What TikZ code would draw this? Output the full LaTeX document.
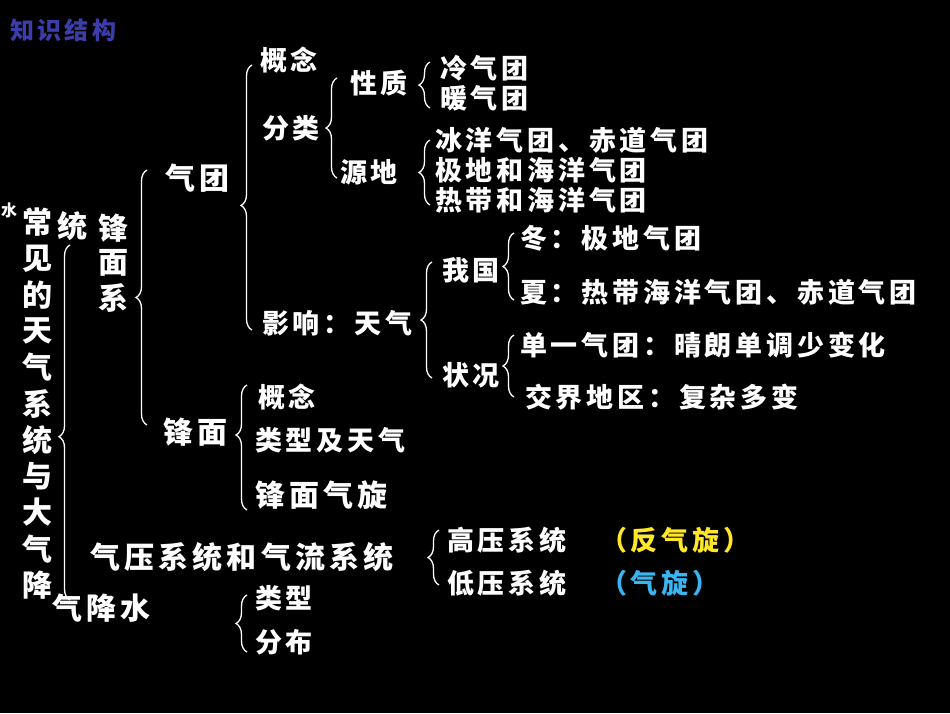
\documentclass[tikz,border=0pt]{standalone}
\usepackage{fontspec}
\setmainfont{Noto Sans CJK SC}[LetterSpace=14]
\usetikzlibrary{decorations.pathreplacing}
\begin{document}
\begin{tikzpicture}[x=1pt,y=-1pt,
  t/.style={anchor=west,text=white,inner sep=0pt,font=\fontsize{27}{27}\selectfont\bfseries},
  tb/.style={t,font=\fontsize{30}{30}\selectfont\bfseries},
  br/.style={draw=white,line width=1.3pt,decorate,decoration={brace,amplitude=11pt,aspect=#1}},
  br/.default=0.5]
\fill[black] (0,0) rectangle (950,713);
\useasboundingbox (0,0) rectangle (950,713);
\node[t,text={rgb,255:red,60;green,60;blue,170},font=\fontsize{24}{24}\selectfont\bfseries] (title) at (10,30) {知识结构};
% left column
\foreach \c [count=\i] in {常,见,的,天,气,系,统,与,大,气,降}
  \node[tb,anchor=center] (L\i) at (38,222+36.3*\i-36.3) {\c};
\node[t,font=\fontsize{16}{16}\selectfont\bfseries] (Lx) at (1,210) {水};
\node[tb,anchor=center] (Lt) at (72,226) {统};
\node[tb] (js) at (52,608) {气降水};
\foreach \c/\y [count=\i] in {锋/228,面/263,系/298}
  \node[tb,anchor=center] (F\i) at (113,\y) {\c};
% braces
\draw[br=0.46] (70,600) -- (70,245);
\draw[br] (147,425) -- (147,170);
\draw[br=0.47] (252,330) -- (252,65);
\draw[br] (337,178) -- (337,78);
\draw[br] (430,108) -- (430,62);
\draw[br] (430,205) -- (430,140);
\draw[br] (432,378) -- (432,262);
\draw[br] (514,300) -- (514,233);
\draw[br] (514,397) -- (514,335);
\draw[br=0.6] (247,510) -- (247,385);
\draw[br] (439,585) -- (439,530);
\draw[br] (247,652) -- (247,595);
% text
\node[tb] (qt) at (165,178) {气团};
\node[t] (gn1) at (260,60) {概念};
\node[t] (fl) at (262,128) {分类};
\node[t] (xz) at (350,83) {性质};
\node[t] (lq) at (440,68) {冷气团};
\node[t] (nq) at (440,98) {暖气团};
\node[t] (yd) at (340,172) {源地};
\node[t] (s1) at (435,140) {冰洋气团、赤道气团};
\node[t] (s2) at (435,170) {极地和海洋气团};
\node[t] (s3) at (435,200) {热带和海洋气团};
\node[t] (yx) at (262,323) {影响：天气};
\node[t] (wg) at (442,270) {我国};
\node[t] (zk) at (442,375) {状况};
\node[t] (d1) at (520,238) {冬：极地气团};
\node[t] (d2) at (520,292) {夏：热带海洋气团、赤道气团};
\node[t] (d3) at (520,345) {单一气团：晴朗单调少变化};
\node[t] (d4) at (525,397) {交界地区：复杂多变};
\node[tb] (fm) at (163,432) {锋面};
\node[t] (gn2) at (258,397) {概念};
\node[t] (lx) at (255,440) {类型及天气};
\node[tb] (fq) at (255,495) {锋面气旋};
\node[tb] (qy) at (90,557) {气压系统和气流系统};
\node[t] (gy) at (447,540) {高压系统};
\node[t,text={rgb,255:red,255;green,230;blue,40}] (fqx) at (600,540) {（反气旋）};
\node[t] (dy) at (447,583) {低压系统};
\node[t,text={rgb,255:red,60;green,180;blue,240}] (qx) at (600,583) {（气旋）};
\node[t] (lx2) at (255,598) {类型};
\node[t] (fb) at (255,642) {分布};
\end{tikzpicture}
\end{document}
